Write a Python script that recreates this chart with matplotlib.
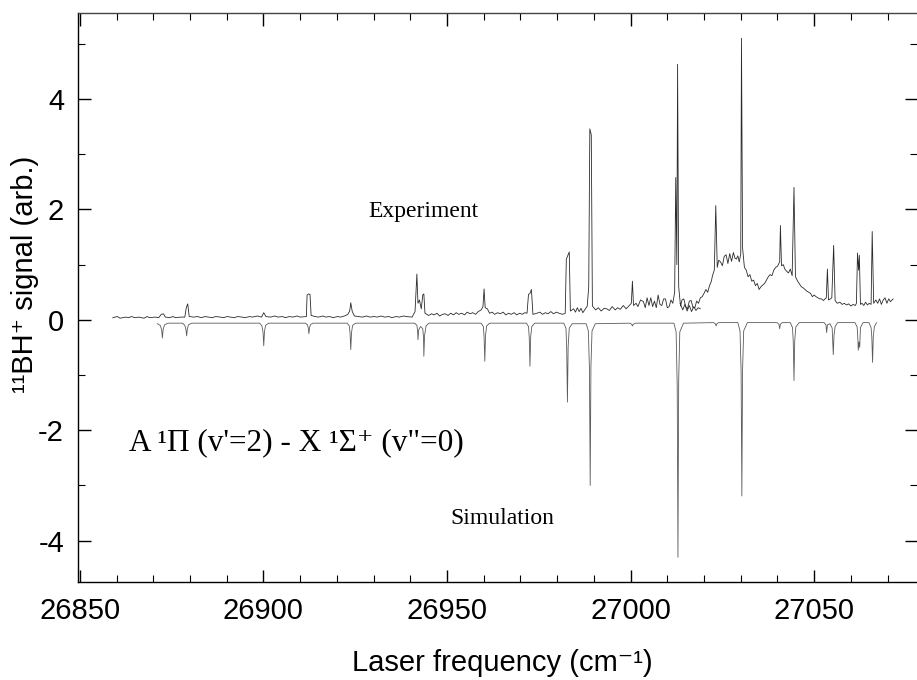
import matplotlib
matplotlib.use("Agg")
import matplotlib.pyplot as plt
from matplotlib.ticker import MultipleLocator

# Experiment trace (cm-1, arb.)
exp_x = [26859.0, 26860.2, 26861.0, 26862.5, 26863.4, 26864.0, 26865.1, 26866.0, 26867.5, 26868.3,
         26869.0, 26870.5, 26871.5, 26872.2, 26872.8, 26873.3, 26874.5, 26875.4, 26876.0, 26877.5,
         26878.6, 26879.0, 26879.4, 26879.8, 26881.0, 26882.1, 26883.0, 26884.2, 26885.0, 26886.1,
         26887.0, 26888.3, 26889.0, 26890.2, 26891.0, 26892.1, 26893.0, 26894.2, 26895.0, 26896.3,
         26897.0, 26898.4, 26899.5, 26900.1, 26900.7, 26902.0, 26903.1, 26904.0, 26905.2, 26906.0,
         26907.1, 26908.0, 26909.2, 26910.0, 26911.7, 26911.9, 26912.3, 26912.7, 26913.0, 26914.1,
         26915.0, 26916.2, 26917.0, 26918.1, 26919.0, 26920.2, 26921.0, 26922.1, 26923.0, 26923.5,
         26923.8, 26924.2, 26924.8, 26926.0, 26927.0, 26928.1, 26929.0, 26930.2, 26931.0, 26932.1,
         26933.0, 26934.2, 26935.0, 26936.1, 26937.0, 26938.2, 26939.0, 26940.5, 26941.3, 26941.8,
         26942.1, 26942.5, 26943.0, 26943.4, 26943.7, 26944.0, 26945.0, 26945.8, 26946.5, 26947.3,
         26948.0, 26948.8, 26949.5, 26950.3, 26951.0, 26951.8, 26952.5, 26953.2, 26954.0, 26954.8,
         26955.5, 26956.3, 26957.0, 26957.8, 26958.5, 26959.3, 26959.8, 26960.1, 26960.4, 26961.0,
         26961.6, 26962.3, 26963.0, 26963.8, 26964.5, 26965.3, 26966.0, 26966.8, 26967.5, 26968.3,
         26969.0, 26969.8, 26970.5, 26971.2, 26971.8, 26972.2, 26972.6, 26973.0, 26973.4, 26974.5,
         26975.3, 26976.0, 26976.8, 26977.5, 26978.3, 26979.0, 26979.8, 26980.5, 26981.5, 26982.2,
         26982.5, 26983.0, 26983.3, 26983.6, 26984.5, 26985.0, 26985.5, 26986.0, 26986.5, 26987.0,
         26987.5, 26988.2, 26988.6, 26988.9, 26989.3, 26989.6, 26990.5, 26991.2, 26992.0, 26992.8,
         26993.5, 26994.2, 26995.0, 26995.8, 26996.5, 26997.2, 26998.0, 26998.8, 26999.5, 27000.2,
         27000.5, 27000.8, 27001.5, 27002.0, 27002.7, 27003.5, 27004.0, 27004.5, 27005.0, 27005.5,
         27006.0, 27006.5, 27007.0, 27007.5, 27008.0, 27008.5, 27009.0, 27009.5, 27010.0, 27010.5,
         27011.0, 27011.5, 27012.0, 27012.3, 27012.6, 27012.8, 27013.1, 27013.6, 27014.0, 27014.5,
         27015.0, 27015.5, 27016.0, 27016.5, 27017.0, 27017.5, 27018.0, 27018.5, 27019.0, 27019.5,
         27020.0, 27020.5, 27021.0, 27021.5, 27022.0, 27022.3, 27022.8, 27023.2, 27023.6, 27024.0,
         27024.5, 27025.0, 27025.5, 27026.0, 27026.5, 27027.0, 27027.5, 27028.0, 27028.4, 27028.8,
         27029.2, 27029.6, 27030.0, 27030.2, 27030.5, 27031.0, 27031.5, 27032.0, 27032.5, 27033.0,
         27033.5, 27034.0, 27034.5, 27035.0, 27035.5, 27036.0, 27036.5, 27037.0, 27037.5, 27038.0,
         27038.5, 27039.0, 27039.5, 27040.0, 27040.6, 27040.8, 27041.1, 27041.6, 27042.0, 27042.5,
         27043.0, 27043.5, 27044.0, 27044.5, 27044.9, 27045.5, 27046.0, 27046.5, 27047.0, 27047.5,
         27048.0, 27048.5, 27049.0, 27049.5, 27050.0, 27050.5, 27051.0, 27051.5, 27052.0, 27052.5,
         27053.3, 27053.6, 27053.9, 27054.4, 27054.8, 27055.3, 27055.7, 27056.3, 27057.0, 27057.6,
         27058.2, 27058.8, 27059.4, 27060.0, 27060.6, 27061.2, 27061.5, 27061.8, 27062.1, 27062.3,
         27062.6, 27063.0, 27063.5, 27064.0, 27064.5, 27065.0, 27065.5, 27065.8, 27066.2, 27066.8,
         27067.3, 27067.8, 27068.3, 27068.8, 27069.3, 27069.8, 27070.3, 27070.8, 27071.5]
exp_y = [0.04, 0.06, 0.03, 0.05, 0.04, 0.06, 0.04, 0.05, 0.03, 0.06,
         0.04, 0.05, 0.04, 0.10, 0.11, 0.05, 0.04, 0.06, 0.04, 0.05,
         0.05, 0.22, 0.29, 0.06, 0.05, 0.06, 0.04, 0.06, 0.05, 0.04,
         0.06, 0.05, 0.04, 0.06, 0.05, 0.04, 0.06, 0.05, 0.04, 0.06,
         0.05, 0.07, 0.05, 0.13, 0.06, 0.05, 0.07, 0.05, 0.06, 0.04,
         0.06, 0.05, 0.07, 0.05, 0.06, 0.45, 0.47, 0.46, 0.08, 0.06,
         0.05, 0.07, 0.05, 0.06, 0.04, 0.06, 0.05, 0.07, 0.10, 0.16,
         0.31, 0.15, 0.07, 0.06, 0.05, 0.07, 0.05, 0.06, 0.05, 0.07,
         0.05, 0.06, 0.04, 0.06, 0.05, 0.07, 0.06, 0.05, 0.15, 0.83,
         0.30, 0.36, 0.20, 0.45, 0.47, 0.12, 0.08, 0.11, 0.09, 0.12,
         0.07, 0.10, 0.11, 0.08, 0.12, 0.09, 0.13, 0.10, 0.12, 0.09,
         0.14, 0.11, 0.13, 0.10, 0.15, 0.18, 0.24, 0.56, 0.22, 0.20,
         0.12, 0.14, 0.10, 0.13, 0.11, 0.14, 0.09, 0.12, 0.10, 0.13,
         0.09, 0.12, 0.10, 0.13, 0.12, 0.46, 0.48, 0.55, 0.10, 0.12,
         0.14, 0.10, 0.13, 0.11, 0.15, 0.11, 0.14, 0.12, 0.10, 0.12,
         1.10, 1.18, 1.23, 0.16, 0.20, 0.14, 0.22, 0.15, 0.21, 0.13,
         0.18, 0.25, 0.60, 3.46, 3.35, 0.25, 0.18, 0.22, 0.16, 0.21,
         0.20, 0.17, 0.24, 0.18, 0.22, 0.19, 0.26, 0.20, 0.25, 0.30,
         0.70, 0.26, 0.30, 0.24, 0.36, 0.33, 0.22, 0.40, 0.26, 0.40,
         0.24, 0.34, 0.22, 0.45, 0.28, 0.26, 0.38, 0.38, 0.22, 0.24,
         0.36, 0.30, 0.50, 2.58, 1.00, 4.63, 0.60, 0.25, 0.36, 0.38,
         0.24, 0.20, 0.34, 0.35, 0.22, 0.22, 0.34, 0.30, 0.40, 0.42,
         0.48, 0.55, 0.50, 0.62, 0.70, 0.80, 0.90, 2.07, 0.95, 1.08,
         1.05, 0.98, 1.15, 1.18, 1.02, 1.20, 1.06, 1.22, 1.12, 1.10,
         1.16, 1.05, 1.20, 5.10, 1.30, 0.95, 0.90, 0.78, 0.82, 0.70,
         0.72, 0.62, 0.66, 0.55, 0.60, 0.63, 0.66, 0.72, 0.78, 0.82,
         0.80, 0.90, 0.95, 0.97, 1.05, 1.71, 0.98, 1.00, 0.92, 0.88,
         0.85, 0.92, 0.80, 2.40, 0.78, 0.70, 0.65, 0.60, 0.58, 0.55,
         0.52, 0.50, 0.48, 0.42, 0.45, 0.42, 0.40, 0.38, 0.38, 0.35,
         0.40, 0.92, 0.36, 0.38, 0.40, 1.35, 0.35, 0.30, 0.32, 0.28,
         0.30, 0.27, 0.29, 0.25, 0.28, 0.26, 0.30, 1.21, 0.90, 1.17,
         0.28, 0.30, 0.26, 0.32, 0.27, 0.30, 0.28, 1.60, 0.30, 0.36,
         0.30, 0.38, 0.28, 0.36, 0.40, 0.30, 0.38, 0.33, 0.38]

# second, overlapping scan piece
exp2_x = [27013.5, 27014.2, 27014.8, 27015.4, 27016.0, 27016.6, 27017.2, 27017.8, 27018.4, 27019.0]
exp2_y = [0.30, 0.18, 0.28, 0.16, 0.26, 0.15, 0.24, 0.17, 0.22, 0.20]

# Simulated spectrum (plotted negative)
sim_x = [26871.1, 26871.9, 26872.3, 26872.5, 26872.7, 26873.1, 26874.0,
         26878.0, 26878.6, 26878.9, 26879.1, 26879.3, 26879.6, 26880.5,
         26899.0, 26899.6, 26899.9, 26900.1, 26900.3, 26900.6, 26901.4,
         26911.4, 26912.0, 26912.2, 26912.4, 26912.6, 26912.9, 26913.6,
         26922.8, 26923.4, 26923.6, 26923.8, 26924.0, 26924.3, 26925.1,
         26941.2, 26941.8, 26942.0, 26942.1, 26942.3, 26942.8, 26943.4, 26943.6, 26943.7, 26943.9, 26944.3, 26945.1,
         26959.3, 26959.9, 26960.1, 26960.3, 26960.5, 26960.8, 26961.6,
         26971.6, 26972.2, 26972.4, 26972.6, 26972.8, 26973.1, 26973.9,
         26981.8, 26982.4, 26982.6, 26982.8, 26983.0, 26983.3, 26984.1,
         26987.9, 26988.5, 26988.8, 26989.0, 26989.2, 26989.5, 26990.4,
         26999.8, 27000.3, 27000.5, 27000.7, 27001.3,
         27011.8, 27012.4, 27012.7, 27012.9, 27013.1, 27013.4, 27014.4,
         27022.6, 27023.1, 27023.3, 27023.5, 27024.0,
         27029.2, 27029.8, 27030.1, 27030.3, 27030.5, 27030.8, 27031.8,
         27039.9, 27040.4, 27040.6, 27040.8, 27041.3,
         27043.5, 27044.1, 27044.3, 27044.5, 27044.7, 27045.0, 27045.9,
         27052.7, 27053.2, 27053.4, 27053.6, 27054.3, 27054.9, 27055.0, 27055.2, 27055.4, 27055.7, 27056.4,
         27061.1, 27061.7, 27061.9, 27062.0, 27062.2, 27062.4, 27062.6, 27063.3,
         27064.9, 27065.5, 27065.7, 27065.9, 27066.1, 27066.4, 27067.0]
sim_y = [-0.07, -0.10, -0.18, -0.33, -0.17, -0.09, -0.06,
         -0.06, -0.10, -0.17, -0.29, -0.16, -0.09, -0.06,
         -0.06, -0.11, -0.22, -0.47, -0.21, -0.10, -0.06,
         -0.06, -0.09, -0.14, -0.25, -0.13, -0.08, -0.06,
         -0.06, -0.11, -0.24, -0.54, -0.23, -0.10, -0.06,
         -0.06, -0.10, -0.20, -0.36, -0.18, -0.12, -0.16, -0.30, -0.66, -0.28, -0.11, -0.06,
         -0.06, -0.12, -0.30, -0.75, -0.28, -0.11, -0.06,
         -0.06, -0.12, -0.32, -0.84, -0.30, -0.12, -0.06,
         -0.06, -0.15, -0.50, -1.49, -0.48, -0.15, -0.07,
         -0.07, -0.20, -0.90, -3.00, -0.85, -0.20, -0.07,
         -0.06, -0.08, -0.11, -0.08, -0.06,
         -0.06, -0.22, -1.20, -4.30, -1.10, -0.22, -0.06,
         -0.05, -0.07, -0.11, -0.07, -0.05,
         -0.05, -0.20, -0.95, -3.19, -0.90, -0.20, -0.05,
         -0.05, -0.08, -0.16, -0.08, -0.05,
         -0.05, -0.14, -0.40, -1.10, -0.38, -0.13, -0.05,
         -0.05, -0.09, -0.23, -0.09, -0.07, -0.15, -0.30, -0.63, -0.28, -0.12, -0.05,
         -0.05, -0.13, -0.35, -0.55, -0.40, -0.50, -0.14, -0.05,
         -0.05, -0.14, -0.32, -0.77, -0.30, -0.12, -0.05]

x_ticks = [26850, 26900, 26950, 27000, 27050]
y_ticks = [-4, -2, 0, 2, 4]

plt.rcParams['font.family'] = ['Liberation Sans', 'DejaVu Sans']
plt.rcParams['axes.unicode_minus'] = False

fig = plt.figure(figsize=(9.17, 6.8), dpi=100)
ax = fig.add_axes([0.085, 0.144, 0.915, 0.837])

ax.plot(exp_x, exp_y, color='#2b2b2b', lw=0.6)
ax.plot(exp2_x, exp2_y, color='#2b2b2b', lw=0.6)
ax.plot(sim_x, sim_y, color='#5a5a5a', lw=0.6)

ax.set_xlim(26849.5, 27078)
ax.set_ylim(-4.75, 5.56)
ax.set_xticks(x_ticks)
ax.set_yticks(y_ticks)
ax.xaxis.set_minor_locator(MultipleLocator(10))
ax.yaxis.set_minor_locator(MultipleLocator(1))
ax.tick_params(which='both', direction='in', top=True, right=True, labelsize=21, colors='black')
ax.tick_params(which='major', length=9, width=1)
ax.tick_params(which='minor', length=5, width=0.8)
ax.tick_params(axis='x', pad=11)
ax.tick_params(axis='y', pad=10)
ax.spines['right'].set_visible(False)
ax.spines['top'].set_color('#444444')
for s in ['left', 'top', 'bottom']:
    ax.spines[s].set_linewidth(1.0)

ax.set_xlabel('Laser frequency (cm\u207b\u00b9)', fontsize=21)
ax.set_ylabel('\u00b9\u00b9BH\u207a signal (arb.)', fontsize=21)
ax.xaxis.set_label_coords(0.506, -0.117)
ax.yaxis.set_label_coords(-0.046, 0.54)

serif = ['Liberation Serif', 'DejaVu Serif']
ax.text(26943.7, 1.97, 'Experiment', family=serif, fontsize=17, ha='center', va='center')
ax.text(26965.0, -3.59, 'Simulation', family=serif, fontsize=17, ha='center', va='center')
ax.text(26863.5, -2.23, 'A \u00b9\u03a0 (v\'=2) - X \u00b9\u03a3\u207a (v"=0)', family=serif,
        fontsize=22.5, ha='left', va='center')

fig.savefig('out.png', dpi=100)
